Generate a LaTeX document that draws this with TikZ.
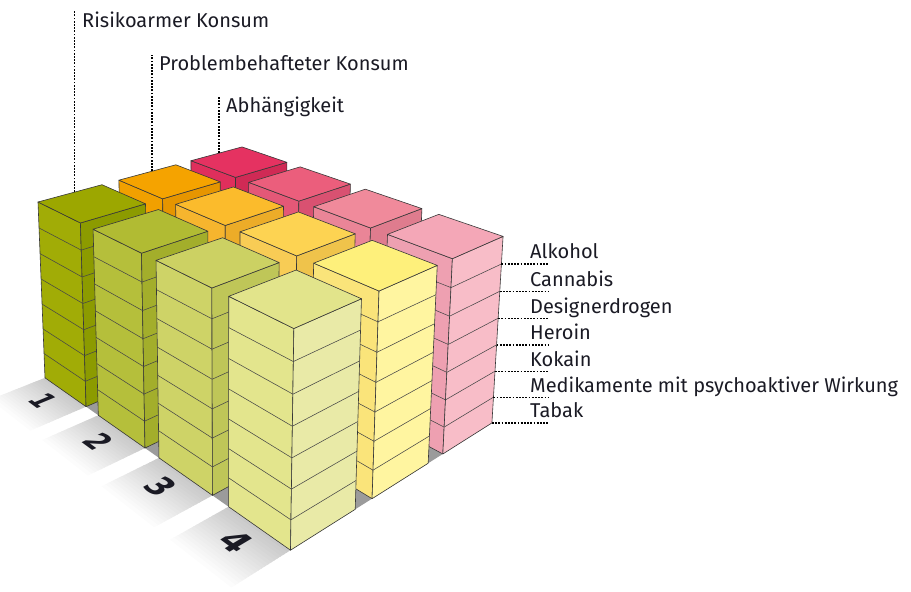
\documentclass[tikz,border=0pt]{standalone}
\usepackage{fontspec}
\setmainfont{Fira Sans}
\newfontfamily\digitfont{DejaVu Sans}
\makeatletter
\def\ppOx{38}\def\ppOy{202}
\def\ppUx{-785}\def\ppUy{-205}\def\ppLu{-0.049}
\def\ppVx{1442}\def\ppVy{-177}\def\ppLv{0.04776}
\def\ppWx{225}\def\ppWy{4900}\def\ppLw{-0.005557}
\pgfkeys{/pp/.is family}
\pgfkeys{/pp/u/.store in=\ppu,/pp/v/.store in=\ppv,/pp/w/.store in=\ppw}
\tikzdeclarecoordinatesystem{pp}{%
  \pgfkeys{/pp/.cd,u=0,v=0,w=0,#1}%
  \pgfmathsetmacro\ppA{(\ppLu)*(\ppu)}%
  \pgfmathsetmacro\ppB{(\ppLv)*(\ppv)}%
  \pgfmathsetmacro\ppC{(\ppLw)*(\ppw)}%
  \pgfmathsetmacro\ppD{1+\ppA+\ppB+\ppC}%
  \pgfmathsetmacro\ppX{(\ppOx+(\ppA)*(\ppUx)+(\ppB)*(\ppVx)+(\ppC)*(\ppWx))/\ppD}%
  \pgfmathsetmacro\ppY{(\ppOy+(\ppA)*(\ppUy)+(\ppB)*(\ppVy)+(\ppC)*(\ppWy))/\ppD}%
  \pgfpoint{\ppX pt}{-\ppY pt}%
}
\makeatother
% colours: t=top, l=left face, r=right face; first digit row, second column
\definecolor{t00}{HTML}{9CA700}\definecolor{l00}{HTML}{A1AC06}\definecolor{r00}{HTML}{8C9B00}
\definecolor{t01}{HTML}{F5A300}\definecolor{l01}{HTML}{F1A000}\definecolor{r01}{HTML}{E69500}
\definecolor{t02}{HTML}{E53261}\definecolor{l02}{HTML}{DF2F5C}\definecolor{r02}{HTML}{D02A55}
\definecolor{t10}{HTML}{B1BB33}\definecolor{l10}{HTML}{B5BF3B}\definecolor{r10}{HTML}{A3AE2B}
\definecolor{t11}{HTML}{FBBB2C}\definecolor{l11}{HTML}{F6B52E}\definecolor{r11}{HTML}{ECAC28}
\definecolor{t12}{HTML}{EB5E7C}\definecolor{l12}{HTML}{E45877}\definecolor{r12}{HTML}{D95171}
\definecolor{t20}{HTML}{CCD163}\definecolor{l20}{HTML}{CED367}\definecolor{r20}{HTML}{BFC658}
\definecolor{t21}{HTML}{FDD352}\definecolor{l21}{HTML}{F8CC55}\definecolor{r21}{HTML}{EFC34B}
\definecolor{t22}{HTML}{F08A9B}\definecolor{l22}{HTML}{EA8597}\definecolor{r22}{HTML}{DF7C8E}
\definecolor{t30}{HTML}{E2E48B}\definecolor{l30}{HTML}{E3E58D}\definecolor{r30}{HTML}{E9EAA7}
\definecolor{t31}{HTML}{FEF07B}\definecolor{l31}{HTML}{FAE47A}\definecolor{r31}{HTML}{FFF5A0}
\definecolor{t32}{HTML}{F4A7B7}\definecolor{l32}{HTML}{EEA0B1}\definecolor{r32}{HTML}{F8BDC8}
\definecolor{floorgray}{HTML}{9B9B9B}
\definecolor{inkcol}{HTML}{1A1A24}
\begin{document}
\begin{tikzpicture}[x=1pt,y=1pt,
  edge/.style={draw=black!78,line width=0.6pt,line join=round},
  layer/.style={draw=black!72,line width=0.55pt,line join=round},
  leader/.style={draw=black,line width=1.3pt,dash pattern=on 1.8pt off 1.4pt},
  lab/.style={font=\fontsize{20}{20}\selectfont,inner sep=0pt,text=inkcol,anchor=base west},
  digit/.style={font=\digitfont\bfseries\fontsize{19}{19}\selectfont,inner sep=0pt,text=inkcol}]
\useasboundingbox (0,0) rectangle (911,-592);
\def\pitch{1.28}
% floor strips in front of each row
\foreach \r in {0,...,3}{
  \pgfmathsetmacro\ua{\r*\pitch}
  \pgfmathsetmacro\ub{\r*\pitch+1}
  \foreach \i in {0,...,17}{
    \pgfmathsetmacro\sa{-\i*0.045}
    \pgfmathsetmacro\sb{-(\i+1)*0.045-0.01}
    \pgfmathsetmacro\g{21*(1-\i/18)}
    \fill[black!\g] (pp cs:u=\ua,v=\sa,w=-7) -- (pp cs:u=\ub,v=\sa,w=-7)
      -- (pp cs:u=\ub,v=\sb,w=-7) -- (pp cs:u=\ua,v=\sb,w=-7) -- cycle;
  }
}
% row numbers lying on the floor
\node[digit,cm={0.923,-0.677,1.523,0.630,(0,0)}] (d1) at (pp cs:u=0.5,v=-0.33,w=-7) {1};
\node[digit,cm={1.052,-0.770,1.561,0.721,(0,0)}] (d2) at (pp cs:u=1.78,v=-0.33,w=-7) {2};
\node[digit,cm={1.209,-0.886,1.614,0.841,(0,0)}] (d3) at (pp cs:u=3.02,v=-0.33,w=-7) {3};
\node[digit,cm={1.402,-1.030,1.620,0.968,(0,0)}] (d4) at (pp cs:u=4.34,v=-0.33,w=-7) {4};
% shadowed floor under the grid
\fill[floorgray] (pp cs:u=0,v=0,w=-7) -- (pp cs:u=3*\pitch+1,v=0,w=-7)
  -- (pp cs:u=3*\pitch+1,v=2*\pitch+1,w=-7) -- (pp cs:u=0,v=2*\pitch+1,w=-7) -- cycle;
% stacks
\foreach \r in {0,...,3}{
  \foreach \c in {2,1,0}{
    \pgfmathsetmacro\ua{\r*\pitch}\pgfmathsetmacro\ub{\r*\pitch+1}
    \pgfmathsetmacro\va{\c*\pitch}\pgfmathsetmacro\vb{\c*\pitch+1}
    \coordinate (T1) at (pp cs:u=\ua,v=\va,w=0);
    \coordinate (T2) at (pp cs:u=\ub,v=\va,w=0);
    \coordinate (T3) at (pp cs:u=\ub,v=\vb,w=0);
    \coordinate (T4) at (pp cs:u=\ua,v=\vb,w=0);
    \coordinate (B1) at (pp cs:u=\ua,v=\va,w=-7);
    \coordinate (B2) at (pp cs:u=\ub,v=\va,w=-7);
    \coordinate (B3) at (pp cs:u=\ub,v=\vb,w=-7);
    \filldraw[fill=l\r\c,edge] (T1) -- (T2) -- (B2) -- (B1) -- cycle;
    \filldraw[fill=r\r\c,edge] (T2) -- (T3) -- (B3) -- (B2) -- cycle;
    \foreach \k in {1,...,6}{
      \draw[layer] (pp cs:u=\ua,v=\va,w=-\k) -- (pp cs:u=\ub,v=\va,w=-\k) -- (pp cs:u=\ub,v=\vb,w=-\k);
    }
    \filldraw[fill=t\r\c,edge] (T1) -- (T2) -- (T3) -- (T4) -- cycle;
  }
}
% category labels at the top
\coordinate (rkend) at (pp cs:u=0,v=0.56,w=0);
\coordinate (pkend) at (pp cs:u=0,v=1.85,w=0);
\coordinate (abend) at (pp cs:u=0,v=3.1,w=0);
\node[lab] (rk) at (82,-27) {Risikoarmer Konsum};
\node[lab] (pk) at (159,-70) {Problembehafteter Konsum};
\node[lab] (ab) at (226,-112) {Abhängigkeit};
\draw[leader] (rkend) -- (rkend |- rk.north);
\draw[leader] (pkend) -- (pkend |- pk.north);
\draw[leader] (abend) -- (abend |- ab.north);
% substance labels on the right
\foreach \k/\nm/\txt in {1/alk/Alkohol,2/can/Cannabis,3/des/Designerdrogen,4/her/Heroin,5/kok/Kokain,6/med/Medikamente mit psychoaktiver Wirkung,7/tab/Tabak}{
  \coordinate (e\k) at (pp cs:u=3*\pitch+1,v=2*\pitch+1,w=-\k);
  \node[lab] (\nm) at ([yshift=5pt]e\k -| 530,0) {\txt};
  \draw[leader] (e\k) -- ([xshift=18pt]e\k -| \nm.west);
}
\end{tikzpicture}
\end{document}
